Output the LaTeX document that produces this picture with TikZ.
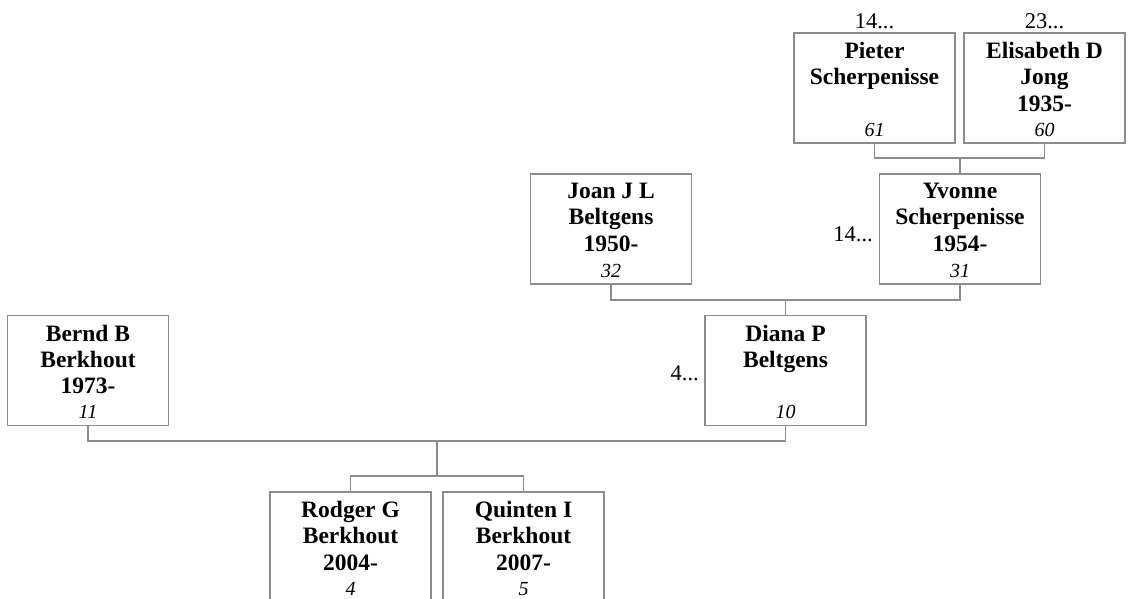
\documentclass[tikz,border=0pt]{standalone}
\usepackage{fontspec}
\setmainfont{Liberation Serif}
\definecolor{lgray}{RGB}{140,140,140}
\tikzset{
  pbox/.style={draw=lgray, line width=1.2pt, minimum width=161pt, minimum height=110pt, inner sep=0pt, rectangle},
  pname/.style={font=\bfseries\fontsize{23.5}{26.3}\selectfont, align=center, anchor=north, inner sep=0pt},
  pnum/.style={font=\itshape\fontsize{20}{22}\selectfont, anchor=base, inner sep=0pt},
  lnk/.style={draw=lgray, line width=1.2pt},
  extlab/.style={font=\fontsize{22.5}{24}\selectfont, inner sep=0pt}
}
\newcommand{\famperson}[5]{%
  \node[pbox] (#1) at (#2,#3) {};
  \node[pname] (#1-n) at (#2,#3-46) {#4};
  \node[pnum] (#1-k) at (#2,#3+48) {#5};
}
\begin{document}
\begin{tikzpicture}[x=1pt,y=-1pt]
\useasboundingbox (0,0) rectangle (1130,598);
\fill[white] (0,0) rectangle (1130,598);

\famperson{pieter}{874.5}{88}{Pieter\\Scherpenisse}{61}
\famperson{elisabeth}{1044.5}{88}{Elisabeth D\\Jong\\1935-}{60}
\famperson{joan}{611}{229}{Joan J L\\Beltgens\\1950-}{32}
\famperson{yvonne}{960}{229}{Yvonne\\Scherpenisse\\1954-}{31}
\famperson{bernd}{88}{370.5}{Bernd B\\Berkhout\\1973-}{11}
\famperson{diana}{785.5}{370.5}{Diana P\\Beltgens}{10}
\famperson{rodger}{350.5}{547}{Rodger G\\Berkhout\\2004-}{4}
\famperson{quinten}{523.5}{547}{Quinten I\\Berkhout\\2007-}{5}

\node[extlab, anchor=base] (l1) at (874.5,28) {14...};
\node[extlab, anchor=base] (l2) at (1044.5,28) {23...};
\node[extlab, anchor=base east] (l3) at (873,241) {14...};
\node[extlab, anchor=base east] (l4) at (699,380) {4...};

\coordinate (b1) at (0,158);
\coordinate (b2) at (0,300);
\coordinate (b3) at (0,441);
\coordinate (b4) at (0,476);
\coordinate (m3) at (437,441);

\draw[lnk] (pieter.south) -- (pieter.south |- b1) -| (elisabeth.south);
\draw[lnk] (yvonne.north) -- (yvonne.north |- b1);

\draw[lnk] (joan.south) -- (joan.south |- b2) -| (yvonne.south);
\draw[lnk] (diana.north) -- (diana.north |- b2);

\draw[lnk] (bernd.south) -- (bernd.south |- b3) -| (diana.south);
\draw[lnk] (m3) -- (m3 |- b4);
\draw[lnk] (rodger.north) -- (rodger.north |- b4) -| (quinten.north);
\end{tikzpicture}
\end{document}
